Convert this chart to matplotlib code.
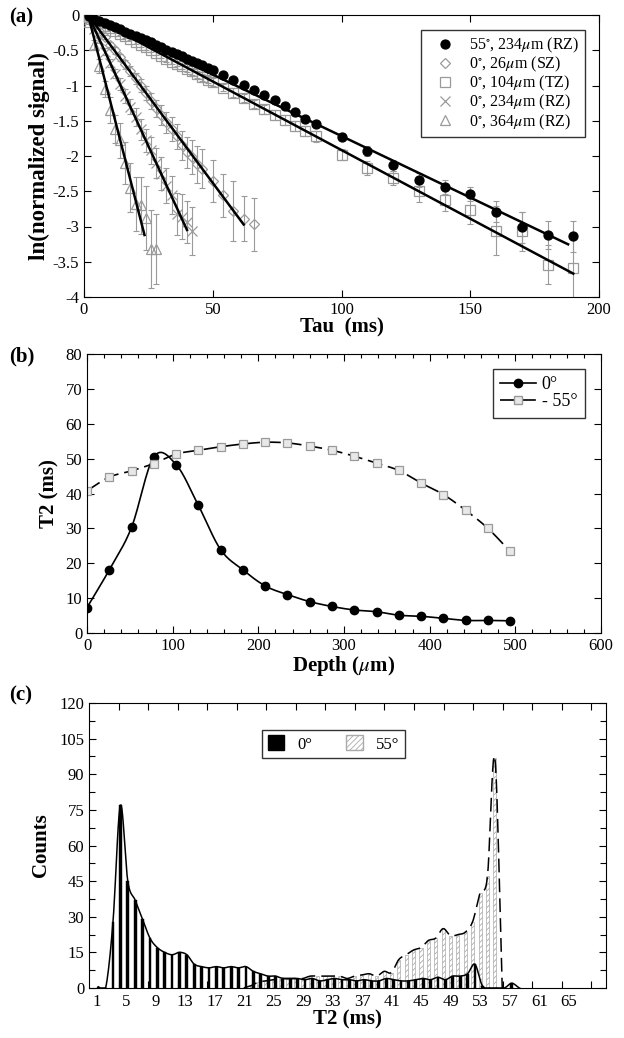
import numpy as np
import matplotlib
matplotlib.use('Agg')
from matplotlib import pyplot as plt
from matplotlib.lines import Line2D
from matplotlib.patches import Patch

plt.rcParams['font.family'] = ['Liberation Serif', 'DejaVu Serif']
plt.rcParams['mathtext.fontset'] = 'stix'
plt.rcParams['hatch.linewidth'] = 0.6
plt.rcParams['xtick.direction'] = 'in'
plt.rcParams['ytick.direction'] = 'in'

# ---- (a) decay curves
tau_long = [2, 4, 6, 8, 10, 12, 14, 16, 18, 20, 22, 24, 26, 28, 30, 32, 34, 36, 38, 40,
            42, 44, 46, 48, 50, 54, 58, 62, 66, 70, 74, 78, 82, 86, 90,
            100, 110, 120, 130, 140, 150, 160, 170, 180, 190]
sig_55_234 = [-0.02, -0.05, -0.08, -0.11, -0.14, -0.17, -0.2, -0.24, -0.27, -0.3, -0.33, -0.36,
              -0.39, -0.42, -0.46, -0.49, -0.52, -0.55, -0.58, -0.62, -0.65, -0.68, -0.71, -0.75,
              -0.78, -0.85, -0.92, -0.99, -1.06, -1.14, -1.21, -1.29, -1.37, -1.47, -1.55,
              -1.73, -1.93, -2.13, -2.34, -2.44, -2.54, -2.79, -3.01, -3.12, -3.14]
err_55_234 = [0.01, 0.01, 0.01, 0.01, 0.01, 0.01, 0.01, 0.01, 0.01, 0.01, 0.01, 0.01,
              0.02, 0.02, 0.02, 0.02, 0.02, 0.02, 0.02, 0.02, 0.02, 0.02, 0.02, 0.02,
              0.03, 0.03, 0.03, 0.03, 0.03, 0.03, 0.04, 0.04, 0.04, 0.04, 0.04,
              0.05, 0.07, 0.08, 0.1, 0.1, 0.1, 0.15, 0.22, 0.2, 0.22]
sig_0_104 = [-0.03, -0.07, -0.11, -0.15, -0.19, -0.23, -0.27, -0.3, -0.34, -0.38, -0.42, -0.46,
             -0.5, -0.54, -0.58, -0.62, -0.66, -0.69, -0.73, -0.77, -0.8, -0.84, -0.88, -0.92,
             -0.95, -1.03, -1.1, -1.18, -1.26, -1.34, -1.42, -1.49, -1.57, -1.65, -1.72,
             -1.98, -2.17, -2.31, -2.5, -2.63, -2.76, -3.06, -3.07, -3.54, -3.59]
err_0_104 = [0.01, 0.01, 0.01, 0.02, 0.02, 0.02, 0.02, 0.02, 0.02, 0.03, 0.03, 0.03,
             0.03, 0.03, 0.03, 0.04, 0.04, 0.04, 0.04, 0.04, 0.05, 0.05, 0.05, 0.05,
             0.05, 0.05, 0.06, 0.06, 0.06, 0.06, 0.07, 0.07, 0.07, 0.07, 0.08,
             0.08, 0.1, 0.1, 0.15, 0.15, 0.2, 0.35, 0.28, 0.28, 0.5]

tau_26 = [2, 4, 6, 8, 10, 12, 14, 16, 18, 20, 22, 24, 26, 28, 30, 32, 34, 36, 38, 40,
          42, 44, 46, 50, 54, 58, 62, 66]
sig_0_26 = [-0.05, -0.13, -0.22, -0.31, -0.42, -0.5, -0.6, -0.7, -0.8, -0.9, -1.0, -1.1,
            -1.22, -1.32, -1.42, -1.52, -1.62, -1.72, -1.85, -1.95, -2.02, -2.12, -2.18,
            -2.35, -2.56, -2.78, -2.89, -2.97]
err_0_26 = [0.02, 0.02, 0.03, 0.03, 0.04, 0.05, 0.05, 0.06, 0.07, 0.08, 0.09, 0.1,
            0.11, 0.12, 0.14, 0.15, 0.17, 0.18, 0.2, 0.22, 0.24, 0.26, 0.28,
            0.3, 0.3, 0.42, 0.32, 0.38]

tau_234 = [2, 4, 6, 8, 10, 12, 14, 16, 18, 20, 22, 24, 26, 28, 30, 32, 34, 36, 38, 40, 42]
sig_0_234 = [-0.06, -0.2, -0.36, -0.52, -0.68, -0.83, -0.98, -1.15, -1.3, -1.45, -1.62,
             -1.78, -1.92, -2.1, -2.25, -2.42, -2.55, -2.82, -2.86, -2.94, -3.06]
err_0_234 = [0.02, 0.03, 0.04, 0.05, 0.06, 0.07, 0.08, 0.1, 0.11, 0.13, 0.15,
             0.17, 0.19, 0.21, 0.23, 0.25, 0.27, 0.3, 0.32, 0.3, 0.34]

tau_364 = [2, 4, 6, 8, 10, 12, 14, 16, 18, 20, 22, 24, 26, 28]
sig_0_364 = [-0.1, -0.42, -0.72, -1.05, -1.35, -1.62, -1.78, -2.1, -2.45, -2.68, -2.7,
             -2.88, -3.32, -3.32]
err_0_364 = [0.03, 0.06, 0.1, 0.12, 0.18, 0.2, 0.25, 0.3, 0.35, 0.38, 0.4, 0.45, 0.55, 0.5]

# fitted lines: start, end, rate (per ms)
fit_start = [1.6, 1.6, 1.6, 1.6, 1.6]
fit_end = [188, 190, 62, 40, 23.5]
fit_rate = [-0.01745, -0.01947, -0.0492, -0.0794, -0.1425]

leg_a = [r'55$^{\circ}$, 234$\mu$m (RZ)', r'0$^{\circ}$, 26$\mu$m (SZ)',
         r'0$^{\circ}$, 104$\mu$m (TZ)', r'0$^{\circ}$, 234$\mu$m (RZ)',
         r'0$^{\circ}$, 364$\mu$m (RZ)']

# ---- (b) T2 profiles
depth = [0, 26, 52, 78, 104, 130, 156, 182, 208, 234, 260, 286, 312, 338, 364, 390,
         416, 442, 468, 494]
t2_0deg = [7.3, 18.1, 30.3, 50.5, 48.3, 36.6, 23.9, 18.1, 13.5, 11.0, 9.0, 7.6, 6.6,
           6.1, 5.1, 4.8, 4.2, 3.6, 3.6, 3.5]
t2_55deg = [40.8, 44.7, 46.5, 48.6, 51.3, 52.4, 53.4, 54.2, 54.7, 54.5, 53.6, 52.4, 50.7,
            48.7, 46.6, 43.0, 39.7, 35.2, 30.0, 23.4]

# ---- (c) histograms
bins_0 = list(range(1, 59))
counts_0 = [0.5, 0, 28, 77, 45, 37, 29, 21, 17, 15, 14, 15, 14, 10, 9, 8.5, 9, 8.5, 9, 8.5,
            9, 7, 6, 5, 5, 4, 4, 4, 3.5, 4, 3, 3.5, 4, 3.5, 3.5, 3, 3.5, 3, 3, 4,
            3.5, 3, 3, 3.5, 4, 3.5, 4.5, 3.5, 5, 5, 6, 10, 1, 0, 0, 0, 2, 0]
bins_55 = list(range(21, 57))
counts_55 = [0, 1, 2.5, 3, 3.5, 4, 4, 4, 4, 5, 5, 5, 5, 5, 4, 5, 5.5, 6, 5, 7,
             6.5, 12, 14, 16, 17, 20, 21, 25, 22, 22.5, 23.5, 28, 40, 47, 97, 0]
label_ticks_c = list(range(1, 66, 4))


def smooth(x, y, n=16):
    x = np.asarray(x, float)
    y = np.asarray(y, float)
    px = np.concatenate([[2 * x[0] - x[1]], x, [2 * x[-1] - x[-2]]])
    py = np.concatenate([[2 * y[0] - y[1]], y, [2 * y[-1] - y[-2]]])
    t = np.linspace(0, 1, n, endpoint=False)[:, None]

    def cr(p):
        p0, p1, p2, p3 = p[:-3], p[1:-2], p[2:-1], p[3:]
        return 0.5 * (2 * p1 + (-p0 + p2) * t + (2 * p0 - 5 * p1 + 4 * p2 - p3) * t ** 2
                      + (-p0 + 3 * p1 - 3 * p2 + p3) * t ** 3)
    sx = np.append(cr(px).T.ravel(), x[-1])
    sy = np.append(cr(py).T.ravel(), y[-1])
    return sx, sy


grey = '#9a9a9a'
fig = plt.figure(figsize=(6.24, 10.38), dpi=100)

# ================= (a)
ax = fig.add_axes([84 / 624, 1 - 297 / 1038, 515 / 624, 282 / 1038])
series = [(tau_long, sig_55_234, err_55_234, 'o', 'k', 'k'),
          (tau_26, sig_0_26, err_0_26, 'D', 'none', grey),
          (tau_long, sig_0_104, err_0_104, 's', 'none', grey),
          (tau_234, sig_0_234, err_0_234, 'x', 'none', grey),
          (tau_364, sig_0_364, err_0_364, '^', 'none', grey)]
order = [1, 2, 3, 4, 0]
handles = [None] * 5
for i in order:
    t, s, e, m, fc, ec = series[i]
    ax.errorbar(t, s, yerr=e, fmt='none', ecolor=grey, elinewidth=0.8, capsize=2.2,
                capthick=0.8, zorder=2)
    ms = 6.5 if m == 'o' else (5 if m == 'D' else 7)
    h, = ax.plot(t, s, ls='none', marker=m, ms=ms, mfc=fc, mec=ec if m != 'x' else grey,
                 mew=0.9, zorder=3)
    handles[i] = h
fit_idx = [0, 2, 1, 3, 4]
for j, i in enumerate(fit_idx):
    xx = np.array([fit_start[j], fit_end[j]])
    ax.plot(xx, fit_rate[j] * (xx - fit_start[j]), color='k', lw=1.8, zorder=4)
ax.set_xlim(0, 200)
ax.set_ylim(-4, 0)
ax.set_xticks([0, 50, 100, 150, 200])
ax.set_yticks(np.arange(-4, 0.01, 0.5))
ax.set_yticklabels(['-4', '-3.5', '-3', '-2.5', '-2', '-1.5', '-1', '-0.5', '0'])
ax.tick_params(top=True, right=True, labelsize=12, length=5, width=0.8)
ax.set_xlabel('Tau  (ms)', fontsize=15, fontweight='bold', labelpad=0)
ax.set_ylabel('ln(normalized signal)', fontsize=16.5, fontweight='bold', labelpad=2)
leg = ax.legend(handles, leg_a, loc='upper right', bbox_to_anchor=(0.973, 0.947),
                borderaxespad=0, fontsize=11.5, frameon=True, fancybox=False, edgecolor='k',
                handletextpad=0.3, labelspacing=0.0, borderpad=0.35, handlelength=2.4)
leg.get_frame().set_linewidth(1.0)
fig.text(0.015, 1 - 22 / 1038, '(a)', fontsize=15, fontweight='bold')

# ================= (b)
ax = fig.add_axes([87 / 624, 1 - 633 / 1038, 514 / 624, 279 / 1038])
sx, sy = smooth(depth, t2_0deg)
ax.plot(sx, sy, color='k', lw=1.2)
ax.plot(depth, t2_0deg, ls='none', marker='o', ms=6, color='k')
sx, sy = smooth(depth, t2_55deg)
ax.plot(sx, sy, color='k', lw=1.2, dashes=(9, 3.5))
ax.plot(depth, t2_55deg, ls='none', marker='s', ms=5.5, mfc='#e8e8e8', mec=grey, mew=0.9)
ax.set_xlim(0, 600)
ax.set_ylim(0, 80)
ax.set_xticks(np.arange(0, 601, 100))
ax.set_xticks(np.arange(0, 601, 20), minor=True)
ax.set_yticks(np.arange(0, 81, 10))
ax.tick_params(top=True, right=True, labelsize=12, length=5, width=0.8)
ax.tick_params(which='minor', top=True, length=3, width=0.8)
ax.set_xlabel(r'Depth ($\mu$m)', fontsize=15, fontweight='bold', labelpad=0)
ax.set_ylabel('T2 (ms)', fontsize=15, fontweight='bold', labelpad=4)
hb = [Line2D([], [], color='k', lw=1.2, marker='o', ms=6),
      Line2D([], [], color='k', lw=1.2, dashes=(9, 3.5), marker='s', ms=5.5,
             mfc='#e8e8e8', mec=grey)]
leg = ax.legend(hb, ['0°', '- 55°'], loc='upper right', bbox_to_anchor=(0.968, 0.946),
                borderaxespad=0, fontsize=13, frameon=True, fancybox=False, edgecolor='k',
                handlelength=2.0, handletextpad=0.3, labelspacing=0.0, borderpad=0.4)
leg.get_frame().set_linewidth(1.0)
fig.text(0.015, 1 - 361 / 1038, '(b)', fontsize=15, fontweight='bold')

# ================= (c)
ax = fig.add_axes([89 / 624, 1 - 988 / 1038, 517 / 624, 285 / 1038])
pos55 = np.array(bins_55) - 0.05
pos0 = np.array(bins_0) + 0.25
ax.bar(pos55, counts_55, width=0.42, color='white', edgecolor='#aaaaaa', hatch='//////',
       linewidth=0.5, zorder=2)
ax.bar(pos0, counts_0, width=0.38, color='k', edgecolor='k', linewidth=0.3, zorder=3)
sx, sy = smooth(pos0, counts_0, n=10)
ax.plot(sx, np.maximum(sy, 0), color='k', lw=1.1, zorder=4)
sx, sy = smooth(pos55, counts_55, n=10)
ax.plot(sx, np.maximum(sy, 0), color='k', lw=1.1, dashes=(9, 4), zorder=4)
ax.set_xlim(0, 70)
ax.set_ylim(0, 120)
ax.set_xticks(np.arange(4, 69, 4))
ax.set_xticklabels([])
ax.set_xticks(label_ticks_c, minor=True)
ax.set_xticklabels([str(v) for v in label_ticks_c], minor=True)
ax.set_yticks(np.arange(0, 121, 15))
ax.set_yticks(np.arange(0, 121, 7.5), minor=True)
ax.tick_params(which='major', top=True, right=True, labelsize=12, length=5, width=0.8)
ax.tick_params(axis='y', which='minor', right=True, length=4, width=0.8)
ax.tick_params(axis='x', which='minor', length=0, labelsize=12, pad=4)
ax.set_xlabel('T2 (ms)', fontsize=15, fontweight='bold', labelpad=0)
ax.set_ylabel('Counts', fontsize=15, fontweight='bold', labelpad=6)
hc = [Patch(facecolor='k', edgecolor='k'),
      Patch(facecolor='white', edgecolor='#aaaaaa', hatch='//////')]
leg = ax.legend(hc, ['0°', '55°'], loc='center', bbox_to_anchor=(0.473, 0.856), ncol=2,
                fontsize=12, frameon=True, fancybox=False, edgecolor='k',
                handlelength=1.0, handleheight=1.0, columnspacing=2.0, handletextpad=0.8,
                borderpad=0.35)
leg.get_frame().set_linewidth(1.0)
fig.text(0.015, 1 - 700 / 1038, '(c)', fontsize=15, fontweight='bold')

fig.savefig('out.png', dpi=100)
